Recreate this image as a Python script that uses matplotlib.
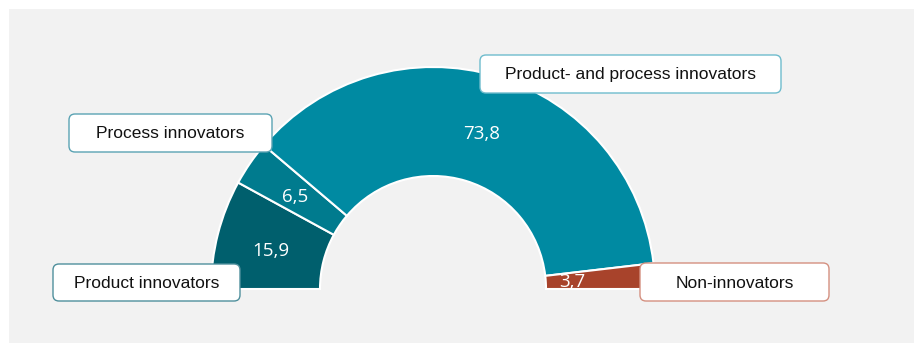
import numpy as np
import matplotlib

matplotlib.use("Agg")
import matplotlib.pyplot as plt
from matplotlib.patches import FancyBboxPatch, Rectangle

# 数据
categories = ["Product innovators", "Process innovators",
              "Product- and process innovators", "Non-innovators"]
values = [15.9, 6.5, 73.8, 3.7]
value_labels = ["15,9", "6,5", "73,8", "3,7"]
colors = ["#005f6d", "#007b8e", "#008aa2", "#a8432b"]
box_edges = ["#4f8f9c", "#5aa3b3", "#6fbccd", "#d49080"]

W, H = 914, 349
fig = plt.figure(figsize=(W / 100, H / 100), dpi=100)
fig.patch.set_facecolor("white")

# 背景层，像素坐标
bg = fig.add_axes([0, 0, 1, 1])
bg.set_xlim(0, W)
bg.set_ylim(H, 0)
bg.axis("off")
bg.add_patch(Rectangle((9, 9), W - 9, 334, facecolor="#f2f2f2", edgecolor="none"))

# 半环图
cx, cy, r_out, r_in = 433, 289, 222, 113
pie_ax = fig.add_axes([(cx - r_out) / W, (H - cy - r_out) / H, 2 * r_out / W, 2 * r_out / H])
total = sum(values)
wedges, _ = pie_ax.pie(
    values + [total],
    colors=colors + ["none"],
    startangle=180,
    counterclock=False,
    radius=1,
    wedgeprops=dict(width=1 - r_in / r_out, edgecolor="white", linewidth=1.5),
)
wedges[-1].set_visible(False)
pie_ax.set_xlim(-1, 1)
pie_ax.set_ylim(-1, 1)
pie_ax.axis("off")

# 顶层：文字与标签框
top = fig.add_axes([0, 0, 1, 1])
top.set_xlim(0, W)
top.set_ylim(H, 0)
top.axis("off")

angle = 180.0
for i, (v, lab) in enumerate(zip(values, value_labels)):
    span = 360.0 * v / (2 * total)
    mid = np.deg2rad(angle - span / 2)
    rr = 0.755
    px = cx + rr * r_out * np.cos(mid)
    py = cy - rr * r_out * np.sin(mid) + 3
    if i == 3:
        px, py = 572, 282
    if i == 2:
        py += 2
    top.text(px, py, lab, color="white", fontsize=13.5, family="Open Sans",
             ha="center", va="center", zorder=5)
    angle -= span

boxes = [(53, 264, 187, 37), (69, 114, 203, 38), (480, 55, 301, 38), (640, 263, 189, 38)]
for (x0, y0, bw, bh), name, ec in zip(boxes, categories, box_edges):
    top.add_patch(FancyBboxPatch((x0, y0), bw, bh,
                                 boxstyle="round,pad=0,rounding_size=6",
                                 facecolor="white", edgecolor=ec, linewidth=1.0, zorder=6))
    top.text(x0 + bw / 2, y0 + bh / 2 + 1, name, fontsize=12.5, family="Liberation Sans",
             color="#111111", ha="center", va="center", zorder=7)

fig.savefig("out.png", dpi=100)
